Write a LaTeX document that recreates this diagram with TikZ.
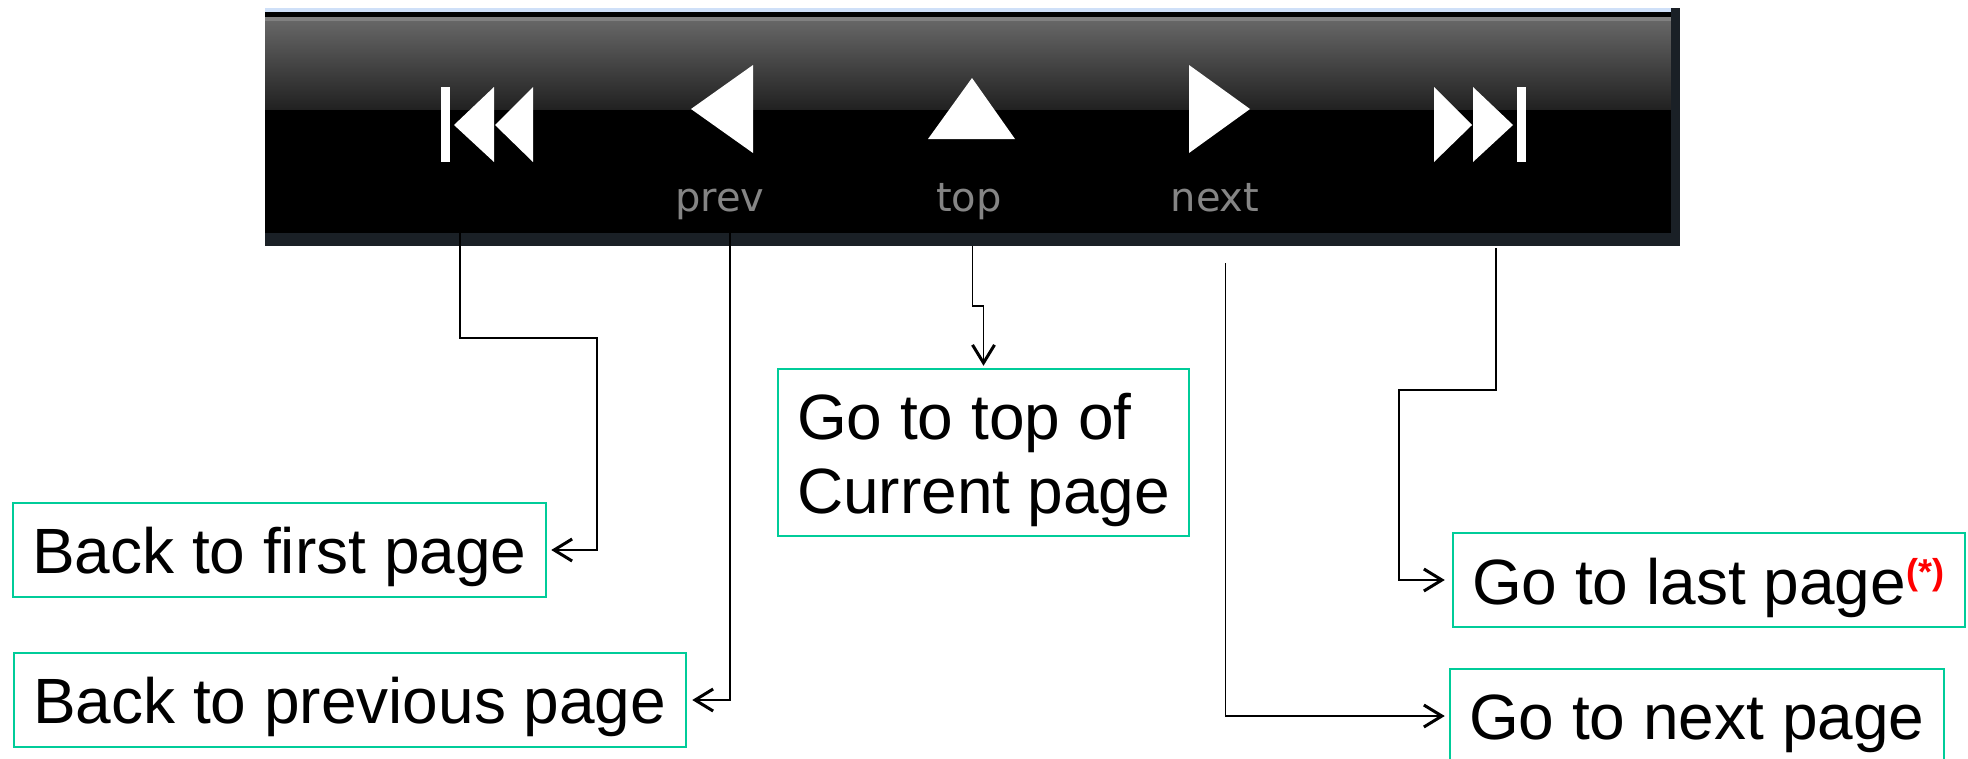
\documentclass[tikz,border=0pt]{standalone}
\usepackage{fontspec}
\setmainfont{Liberation Sans}
\newfontfamily\iconfont{DejaVu Sans}
\usetikzlibrary{arrows.meta}
\definecolor{boxteal}{HTML}{00CC99}
\definecolor{bardark}{HTML}{1A2026}
\definecolor{barblue}{HTML}{CFE0F8}
\definecolor{icongray}{HTML}{858585}

\begin{document}
\begin{tikzpicture}[
          x=1pt, y=-1pt,
          block/.style = {draw=boxteal, line width=2.5pt, rectangle, inner sep=0pt, align=flush left, minimum height=94pt, text height=47pt, text depth=0pt, font=\fontsize{64}{74}\selectfont},
          barlabel/.style = {text=icongray, inner sep=0pt, anchor=base, font=\iconfont\fontsize{40}{40}\selectfont},
          icon/.style = {fill=white},
          link/.style = {draw, line width=1.6pt, -{Straight Barb[length=18pt, width=22pt, line width=3pt]}}
        ]

        \useasboundingbox (0,0) rectangle (1968,758);
        \clip (0,0) rectangle (1968,758);

        \fill[barblue] (265,8) rectangle (1680,12);
        \fill[black] (265,12) rectangle (1671,233);
        \fill[gray] (265,17) rectangle (1671,21);
        \shade[top color=black!60!white, bottom color=black!87!white] (265,21) rectangle (1671,109);
        \fill[bardark] (265,233) rectangle (1680,246);
        \fill[bardark] (1671,8) rectangle (1680,246);

        \fill[icon] (441,87) rectangle (450,162);
        \fill[icon] (454,125) -- (494,87) -- (494,162) -- cycle;
        \fill[icon] (495,125) -- (533,87) -- (533,162) -- cycle;
        \fill[icon] (691,109) -- (753,65) -- (753,153) -- cycle;
        \fill[icon] (928,139) -- (972,78) -- (1015,139) -- cycle;
        \fill[icon] (1250,109) -- (1189,65) -- (1189,153) -- cycle;
        \fill[icon] (1472,125) -- (1434,87) -- (1434,162) -- cycle;
        \fill[icon] (1513,125) -- (1473,87) -- (1473,162) -- cycle;
        \fill[icon] (1517,87) rectangle (1526,162);

        \node[barlabel] (prevlabel) at (720,211) {prev};
        \node[barlabel] (toplabel) at (969,211) {top};
        \node[barlabel] (nextlabel) at (1215,211) {next};

        \node[block, minimum width=533pt, text width=495pt] (first) at (279.5,550) {Back to first page};
        \node[block, minimum width=672pt, text width=634pt] (prev) at (350,700) {Back to previous page};
        \node[block, minimum width=411pt, text width=373pt, minimum height=167pt, text depth=73pt] (top) at (983.5,452.5) {Go to top of\\Current page};
        \node[block, minimum width=512pt, text width=474pt, text height=49pt] (last) at (1709,580) {Go to last page\raisebox{20pt}{\fontsize{36}{36}\selectfont\bfseries\color{red}(*)}};
        \node[block, minimum width=494pt, text width=456pt] (next) at (1697,716) {Go to next page};

        \coordinate (startfirst) at (460,233);
        \coordinate (bendfirst) at (597,338);
        \coordinate (startprev) at (730,233);
        \coordinate (starttop) at (972.5,246);
        \coordinate (bendtop) at (983.5,306);
        \coordinate (startnext) at (1225.5,263);
        \coordinate (startlast) at (1496,248);
        \coordinate (bendlast) at (1399,390);

        \draw[link, shorten >=4pt] (startfirst) |- (bendfirst) |- (first.east);
        \draw[link, shorten >=5pt] (startprev) |- (prev.east);
        \draw[link, shorten >=2pt] (starttop) |- (bendtop) -- (top.north);
        \draw[link, shorten >=4pt] (startnext) |- (next.west);
        \draw[link, shorten >=7pt] (startlast) |- (bendlast) |- (last.west);
      \end{tikzpicture}
\end{document}
